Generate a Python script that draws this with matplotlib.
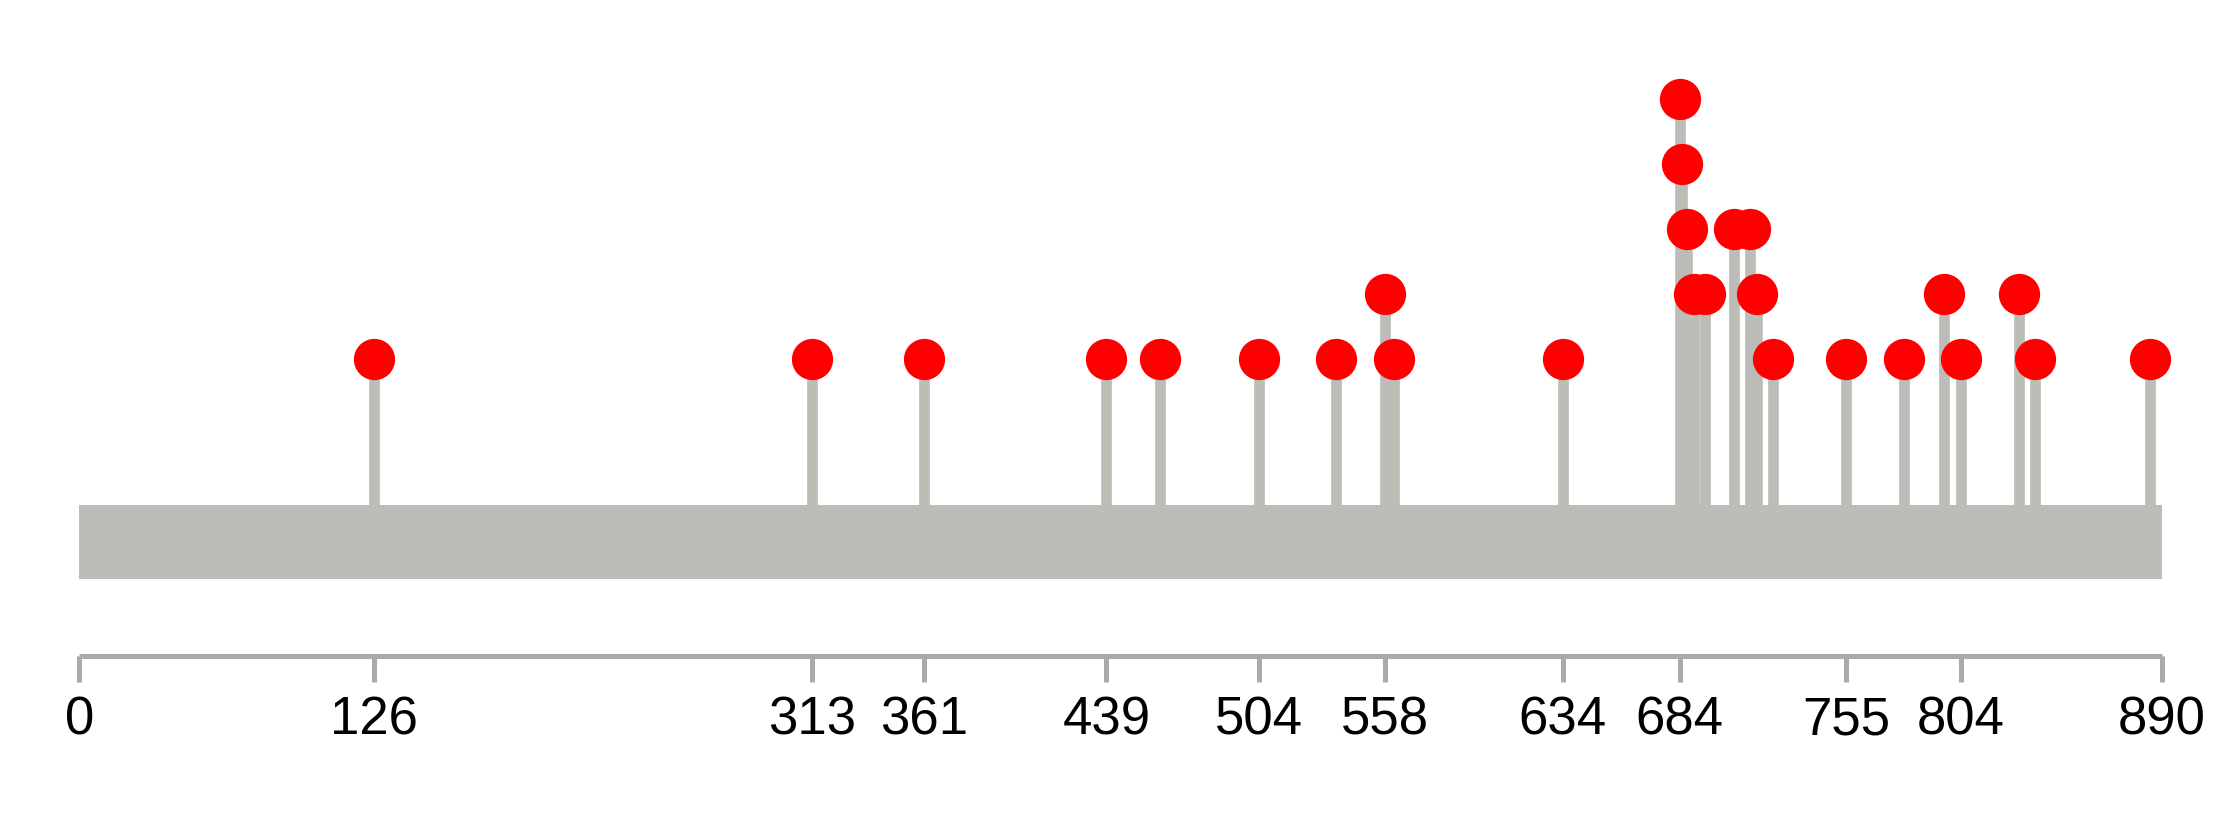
import matplotlib
matplotlib.use('Agg')
import matplotlib.pyplot as plt
from matplotlib.patches import Rectangle

# protein length and mutation sites (position, number of hits)
protein_length = 890
positions = [126, 313, 361, 439, 462, 504, 537, 558, 562, 634, 684, 685, 687,
             690, 695, 707, 714, 717, 724, 755, 780, 797, 804, 829, 836, 885]
counts = [1, 1, 1, 1, 1, 1, 1, 2, 1, 1, 5, 4, 3,
          2, 2, 3, 3, 2, 1, 1, 1, 2, 1, 2, 1, 1]
tick_positions = [0, 126, 313, 361, 439, 504, 558, 634, 684, 755, 804, 890]

grey = '#bbbdb6'
axis_grey = '#aaaaaa'

plt.rcParams['font.family'] = ['Liberation Sans', 'DejaVu Sans']

fig = plt.figure(figsize=(22.39, 8.38), dpi=100)
ax = fig.add_axes([0, 0, 1, 1])
ax.set_xlim(-33.85, 923.0)
ax.set_ylim(-6.353, 6.519)
ax.axis('off')

backbone_top = -1.238
backbone_bottom = -2.370
ax.add_patch(Rectangle((0, backbone_bottom), protein_length,
                       backbone_top - backbone_bottom, color=grey, lw=0, zorder=1))

# stems and heads
ax.vlines(positions, backbone_top, counts, colors=grey, linewidth=7.7, zorder=2)
ax.plot(positions, counts, 'o', color='#ff0000', markersize=29.7,
        markeredgewidth=0, zorder=3)

# position axis
axis_y = -3.565
tick_bottom = -3.957
ax.plot([0, protein_length], [axis_y, axis_y], color=axis_grey, linewidth=3.6,
        solid_capstyle='butt', zorder=1)
ax.vlines(tick_positions, tick_bottom, axis_y, colors=axis_grey, linewidth=3.6, zorder=1)
for t in tick_positions:
    ax.text(t, -4.756, str(t), ha='center', va='baseline', fontsize=38, color='black')

plt.savefig('out.png', dpi=100)
